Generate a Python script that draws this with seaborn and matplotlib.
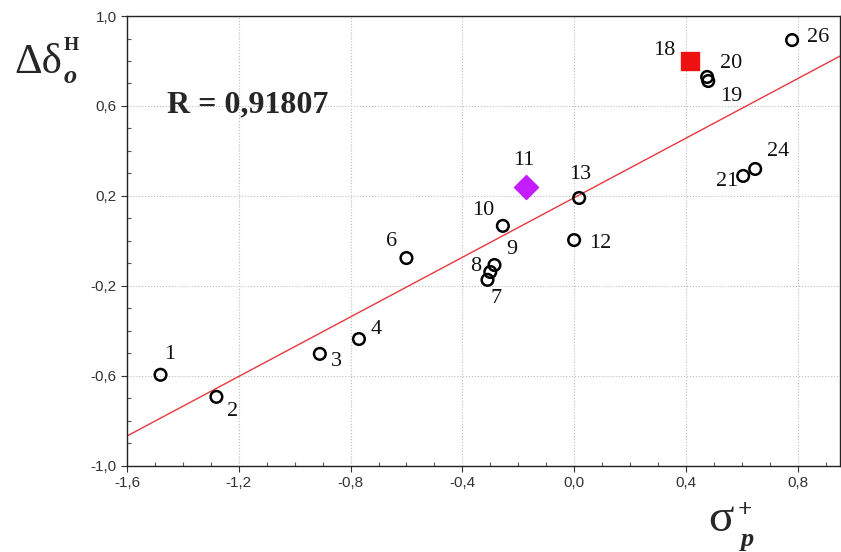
import numpy as np
import pandas as pd
import seaborn as sns
import matplotlib.pyplot as plt
from matplotlib.ticker import MultipleLocator, FuncFormatter

# compound numbers, sigma_p+ and delta-delta values
labels = ['1', '2', '3', '4', '6', '7', '8', '9', '10', '12', '13',
          '19', '20', '21', '24', '26']
sigma = [-1.48, -1.28, -0.91, -0.77, -0.60, -0.31, -0.30, -0.285, -0.255,
         0.0, 0.018, 0.48, 0.476, 0.605, 0.648, 0.78]
delta = [-0.595, -0.693, -0.502, -0.436, -0.076, -0.173, -0.138, -0.107,
         0.067, 0.004, 0.191, 0.711, 0.729, 0.289, 0.32, 0.893]

# highlighted compounds
special_labels = ['11', '18']
special_sigma = [-0.172, 0.415]
special_delta = [0.24, 0.80]

# regression line parameters
fit_slope = 0.662
fit_intercept = 0.192
r_value = '0,91807'

# label offsets in pixels (dx, dy) from the marker
offsets = {'1': (9, 20), '2': (16, -15), '3': (17, -8), '4': (17, 10),
           '6': (-15, 17), '7': (9, -19), '8': (-15, 5), '9': (17, 16),
           '10': (-20, 15), '11': (-2, 26), '12': (26, -3), '13': (1, 23),
           '18': (-26, 10), '20': (24, 13), '19': (23, -15), '21': (-16, -6),
           '24': (23, 17), '26': (26, 3)}

df = pd.DataFrame({'label': labels, 'sigma': sigma, 'delta': delta})

sns.set_style('white')
plt.rcParams['font.family'] = ['Liberation Sans', 'DejaVu Sans']
serif = 'Liberation Serif'

fig = plt.figure(figsize=(8.41, 5.52), dpi=100)
ax = fig.add_axes([0.151, 0.156, 0.848, 0.815])

xmin, xmax = -1.6, 0.952
xs = np.array([xmin, xmax])
sns.lineplot(x=xs, y=fit_intercept + fit_slope * xs, color='#e8383d',
             linewidth=1.0, ax=ax, zorder=2)

sns.scatterplot(data=df, x='sigma', y='delta', marker='o', s=70,
                facecolor='none', edgecolor='black', linewidth=1.8,
                ax=ax, zorder=3)
sns.scatterplot(x=[special_sigma[0]], y=[special_delta[0]], marker='D', s=150,
                color='#c21cff', edgecolor='#c21cff', ax=ax, zorder=3)
sns.scatterplot(x=[special_sigma[1]], y=[special_delta[1]], marker='s', s=150,
                color='#ee1111', edgecolor='#ee1111', ax=ax, zorder=3)

all_labels = labels + special_labels
all_x = sigma + special_sigma
all_y = delta + special_delta
for lab, x, y in zip(all_labels, all_x, all_y):
    ax.annotate(lab, (x, y), xytext=offsets[lab], textcoords='offset pixels',
                ha='center', va='center', fontsize=16,
                family=serif, color='#111111')

ax.text(0.056, 0.802, 'R = ' + r_value, transform=ax.transAxes,
        fontsize=23, fontweight='bold', family=serif, va='center')

ax.set_xlim(xmin, xmax)
ax.set_ylim(-1.0, 1.0)
ax.xaxis.set_major_locator(MultipleLocator(0.4))
ax.yaxis.set_major_locator(MultipleLocator(0.4, offset=0.2))
ax.xaxis.set_minor_locator(MultipleLocator(0.1))
ax.yaxis.set_minor_locator(MultipleLocator(0.1))
comma = FuncFormatter(lambda v, p: f'{v:.1f}'.replace('.', ',').replace('-0,0', '0,0'))
ax.xaxis.set_major_formatter(comma)
ax.yaxis.set_major_formatter(comma)
ax.tick_params(which='major', direction='out', length=4, width=0.8,
               labelsize=11, labelcolor='#333333', color='#333333')
ax.tick_params(which='minor', direction='in', length=3, width=0.8,
               color='#555555')
ax.tick_params(axis='x', which='both', bottom=True)
ax.tick_params(axis='y', which='both', left=True)
ax.grid(which='major', linestyle=':', color='#bbbbbb', linewidth=0.8)

for side in ['left', 'bottom', 'top', 'right']:
    ax.spines[side].set_color('#222222')
    ax.spines[side].set_linewidth(1.0)

ax.set_xlabel('')
ax.set_ylabel('')

# y axis title: delta delta with bold italic o subscript and bold H superscript
fig.text(0.045, 0.887, 'Δδ', fontsize=31, family=serif, ha='center', va='center')
fig.text(0.084, 0.862, 'o', fontsize=19, family=serif, fontweight='bold',
         fontstyle='italic', ha='center', va='center')
fig.text(0.085, 0.918, 'H', fontsize=14, family=serif, fontweight='bold',
         ha='center', va='center')

# x axis title: sigma with bold italic p subscript and bold + superscript
fig.text(0.857, 0.058, 'σ', fontsize=34, family=serif, ha='center', va='center')
fig.text(0.889, 0.022, 'p', fontsize=19, family=serif, fontweight='bold',
         fontstyle='italic', ha='center', va='center')
fig.text(0.886, 0.076, '+', fontsize=18, family=serif, fontweight='bold',
         ha='center', va='center')

plt.savefig('out.png', dpi=100)
